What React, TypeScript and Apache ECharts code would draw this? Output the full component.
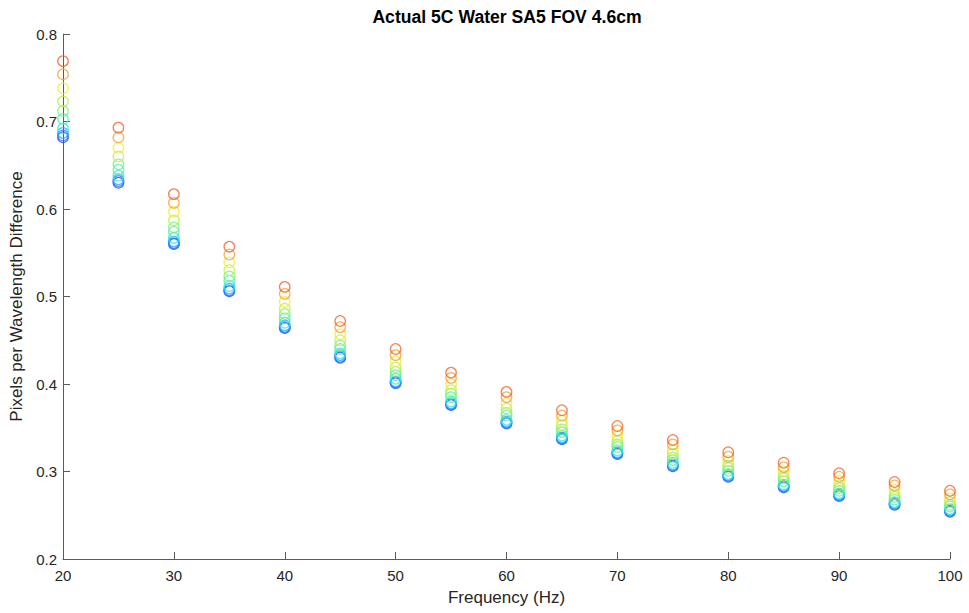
import React, { useEffect, useRef } from "react";
import * as echarts from "echarts";

// Frequencies (Hz) on the x axis
const frequencies = [20, 25, 30, 35, 40, 45, 50, 55, 60, 65, 70, 75, 80, 85, 90, 95, 100];

// Pixels-per-wavelength difference, one array per run (lowest to highest)
const run1 = [0.682, 0.630, 0.560, 0.506, 0.464, 0.430, 0.401, 0.376, 0.355, 0.337, 0.320, 0.306, 0.294, 0.282, 0.272, 0.262, 0.254];
const run2 = [0.684, 0.632, 0.561, 0.507, 0.465, 0.431, 0.402, 0.377, 0.356, 0.338, 0.321, 0.307, 0.295, 0.283, 0.273, 0.263, 0.255];
const run3 = [0.687, 0.634, 0.563, 0.509, 0.467, 0.433, 0.403, 0.378, 0.357, 0.339, 0.322, 0.308, 0.296, 0.284, 0.274, 0.264, 0.256];
const run4 = [0.692, 0.638, 0.567, 0.512, 0.470, 0.435, 0.406, 0.380, 0.359, 0.341, 0.324, 0.310, 0.297, 0.285, 0.275, 0.265, 0.257];
const run5 = [0.703, 0.645, 0.574, 0.518, 0.475, 0.440, 0.410, 0.385, 0.364, 0.345, 0.328, 0.313, 0.301, 0.289, 0.278, 0.268, 0.260];
const run6 = [0.712, 0.651, 0.579, 0.523, 0.480, 0.444, 0.414, 0.389, 0.367, 0.348, 0.331, 0.316, 0.304, 0.292, 0.281, 0.271, 0.262];
const run7 = [0.723, 0.660, 0.587, 0.530, 0.486, 0.450, 0.419, 0.393, 0.372, 0.353, 0.335, 0.320, 0.307, 0.295, 0.284, 0.274, 0.265];
const run8 = [0.738, 0.670, 0.597, 0.539, 0.494, 0.457, 0.426, 0.400, 0.378, 0.358, 0.341, 0.325, 0.312, 0.300, 0.289, 0.279, 0.269];
const run9 = [0.754, 0.682, 0.607, 0.548, 0.503, 0.465, 0.433, 0.407, 0.385, 0.364, 0.347, 0.331, 0.317, 0.305, 0.294, 0.284, 0.274];
const run10 = [0.769, 0.693, 0.617, 0.557, 0.511, 0.472, 0.440, 0.413, 0.391, 0.370, 0.352, 0.336, 0.322, 0.310, 0.298, 0.288, 0.278];

const runs = [run1, run2, run3, run4, run5, run6, run7, run8, run9, run10];

// Jet-like colours, blue (run1) to orange-red (run10)
const runColors = [
  "#2a4cf5", "#2470ff", "#28a9ff", "#2de6ef", "#4cf0b6",
  "#78f27c", "#b5f34a", "#f3ee25", "#f7a035", "#f3632b",
];

const yTicks = [0.2, 0.3, 0.4, 0.5, 0.6, 0.7, 0.8];

const FONT = "Liberation Sans, Arial, Helvetica, sans-serif";
const AXIS_GREY = "#5a5a5a";
const TEXT_GREY = "#262626";

export default function App() {
  const ref = useRef<HTMLDivElement>(null);

  useEffect(() => {
    if (!ref.current) return;
    const chart = echarts.init(ref.current, undefined, { renderer: "svg" });

    const grid = { left: 63, right: 19, top: 34, bottom: 54, containLabel: false, outerBoundsMode: "none" };

    chart.setOption({
      animation: false,
      backgroundColor: "#ffffff",
      grid,
      graphic: [
        {
          type: "text",
          x: 507,
          y: 17,
          style: {
            text: "Actual 5C Water SA5 FOV 4.6cm",
            font: `bold 17.6px ${FONT}`,
            fill: "#000000",
            align: "center",
            verticalAlign: "middle",
          },
        },
      ],
      xAxis: {
        type: "value",
        min: 20,
        max: 100,
        interval: 10,
        name: "Frequency (Hz)",
        nameLocation: "middle",
        nameGap: 30,
        nameTextStyle: { fontFamily: FONT, fontSize: 17, color: TEXT_GREY },
        axisLine: { show: true, onZero: false, lineStyle: { color: AXIS_GREY, width: 1 } },
        axisTick: { show: true, inside: true, length: 7, lineStyle: { color: AXIS_GREY } },
        axisLabel: { fontFamily: FONT, fontSize: 15, color: TEXT_GREY, margin: 9 },
        splitLine: { show: false },
      },
      yAxis: {
        type: "value",
        min: yTicks[0],
        max: yTicks[yTicks.length - 1],
        interval: 0.1,
        name: "Pixels per Wavelength Difference",
        nameLocation: "middle",
        nameGap: 35,
        nameTextStyle: { fontFamily: FONT, fontSize: 17, color: TEXT_GREY },
        axisLine: { show: true, onZero: false, lineStyle: { color: AXIS_GREY, width: 1 } },
        axisTick: { show: true, inside: true, length: 7, lineStyle: { color: AXIS_GREY } },
        axisLabel: {
          fontFamily: FONT,
          fontSize: 15,
          color: TEXT_GREY,
          margin: 6,
          formatter: (v: number) => v.toFixed(1),
        },
        splitLine: { show: false },
      },
      series: runs.map((vals, i) => ({
        type: "scatter",
        name: `run ${i + 1}`,
        symbol: "circle",
        symbolSize: 10.5,
        data: frequencies.map((f, j) => [f, vals[j]]),
        itemStyle: {
          color: "transparent",
          borderColor: runColors[i],
          borderWidth: 1.3,
        },
        z: 2 + i,
      })),
    });

    return () => chart.dispose();
  }, []);

  return (
    <div
      ref={ref}
      style={{ position: "fixed", left: 0, top: 0, width: 969, height: 613, background: "#fff" }}
    />
  );
}
